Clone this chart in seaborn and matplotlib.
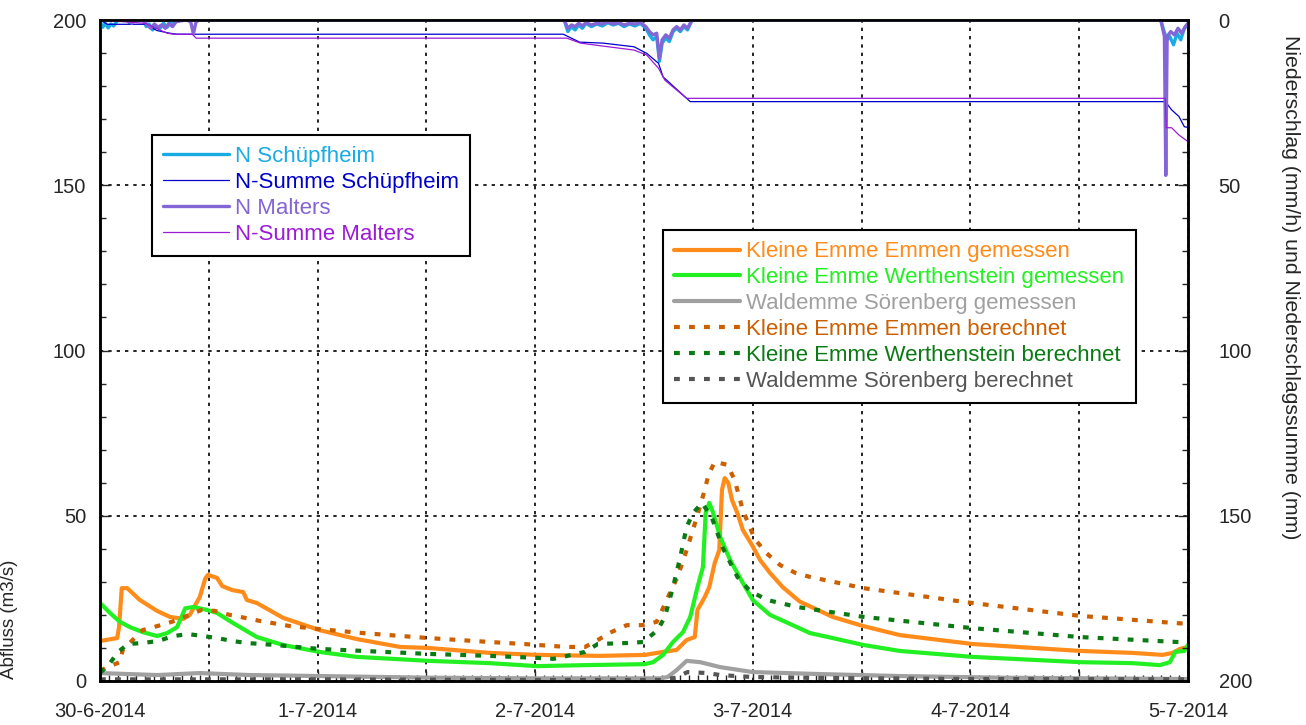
import numpy as np
import pandas as pd
import matplotlib
matplotlib.use('Agg')
import matplotlib.pyplot as plt
import matplotlib.dates as mdates
import seaborn as sns

# time axis: hours after 30-6-2014 00:00
start = pd.Timestamp('2014-06-30')
day_labels = ['30-6-2014', '1-7-2014', '2-7-2014', '3-7-2014', '4-7-2014', '5-7-2014']

# Abfluss (m3/s)
emmen_mess_h = [0, 1.9, 2.1, 2.4, 3.0, 4.4, 6.3, 7.7, 9.2, 9.9, 11.0, 11.6, 11.9, 12.9, 13.5, 14.6, 15.8, 16.2,
                17.3, 20.2, 24.2, 28.3, 33.1, 36.2, 43.0, 48.2, 55.1, 60.1, 62.1, 63.6, 64.7, 65.6, 65.9, 66.7,
                67.2, 67.8, 68.3, 68.6, 68.9, 69.3, 69.7, 70.3, 70.9, 71.9, 72.8, 73.9, 75.3, 77.2, 79.4, 80.8,
                84.2, 88.2, 96.2, 102.9, 108.1, 113.9, 117.2, 118.3, 119.1, 120]
emmen_mess = [12.1, 13.0, 16.3, 28.1, 28.1, 24.5, 21.2, 19.4, 18.8, 20.0, 25.4, 30.9, 32.1, 31.2, 28.7, 27.5, 26.9, 24.5,
              23.6, 19.1, 15.4, 12.7, 10.3, 10.0, 8.5, 7.9, 7.6, 7.9, 8.8, 9.4, 12.4, 13.3, 21.5, 25.4,
              28.4, 35.7, 39.6, 57.8, 61.4, 59.9, 54.8, 50.8, 45.7, 41.2, 36.6, 32.7, 28.4, 24.0, 21.2, 19.4,
              16.6, 13.9, 11.2, 10.0, 9.1, 8.5, 7.9, 8.5, 9.7, 10.3]

werth_mess_h = [0, 1.1, 2.2, 3.3, 4.7, 6.3, 7.4, 8.5, 9.4, 10.3, 11.8, 12.9, 14.7, 17.3, 20.2, 24.2, 28.3, 36.2,
                43.0, 48.2, 53.5, 60.1, 61.0, 62.1, 63.2, 64.3, 65.1, 65.9, 66.5, 66.8, 67.2, 67.6, 68.4, 69.5,
                70.9, 72.0, 73.9, 76.4, 78.3, 80.8, 84.2, 88.2, 96.2, 102.9, 108.1, 113.9, 116.9, 118.0, 118.6,
                119.6, 120]
werth_mess = [23.6, 20.6, 17.9, 16.3, 14.8, 13.6, 14.5, 16.3, 22.0, 22.4, 21.5, 20.6, 17.5, 13.3, 10.9, 8.8, 7.3, 6.1,
              5.4, 4.5, 4.8, 5.1, 5.7, 7.9, 11.8, 14.8, 19.4, 28.4, 34.5, 50.8, 53.9, 51.1, 43.6, 36.6,
              29.7, 24.5, 20.0, 16.9, 14.5, 13.0, 10.9, 9.1, 7.3, 6.4, 5.7, 5.4, 4.8, 5.7, 8.8,
              9.1, 10.9]

wald_mess_h = [0, 6.3, 11.0, 16.5, 24.3, 36.4, 48.2, 61.8, 62.6, 63.6, 64.7, 66.2, 68.4, 72.0, 79.4, 88.2, 99.3, 120]
wald_mess = [2.4, 1.8, 2.4, 1.8, 1.5, 1.0, 0.8, 0.8, 1.2, 3.3, 6.1, 5.7, 4.2, 2.7, 2.1, 1.5, 1.0, 0.6]

emmen_ber_h = [0, 0.8, 2.2, 2.5, 3.6, 4.7, 6.3, 7.9, 9.6, 11.2, 12.7, 14.3, 16.0, 17.6, 21.0, 24.2, 29.0, 36.2,
               43.0, 46.7, 51.5, 53.5, 54.9, 56.4, 58.1, 59.8, 61.4, 62.9, 63.7, 64.7, 65.8, 66.7, 67.1, 67.8,
               69.2, 70.0, 70.9, 72.2, 73.5, 75.0, 76.7, 78.3, 84.2, 96.2, 108.1, 118.8, 120]
emmen_ber = [3.0, 4.2, 5.7, 9.4, 12.4, 15.4, 16.6, 17.9, 19.7, 21.5, 21.2, 20.0, 19.1, 18.2, 16.6, 15.7, 14.5, 13.0,
             11.8, 11.2, 10.3, 10.3, 12.4, 14.8, 16.9, 16.9, 17.9, 26.9, 31.5, 39.6, 49.3, 57.8, 62.3, 66.3,
             65.4, 60.8, 51.7, 43.0, 38.7, 35.1, 32.7, 31.5, 28.1, 23.6, 19.7, 17.5, 17.3]

werth_ber_h = [0, 1.1, 2.0, 3.1, 4.7, 6.4, 8.1, 9.7, 11.4, 12.9, 14.6, 16.2, 19.3, 24.2, 29.0, 36.2, 43.0, 48.2,
               50.0, 53.5, 54.9, 58.2, 59.9, 61.5, 62.3, 63.2, 64.0, 64.7, 65.4, 66.4, 67.5, 68.7, 70.3, 71.7,
               73.6, 76.9, 78.3, 84.2, 96.2, 108.1, 118.8, 120]
werth_ber = [2.4, 5.4, 8.8, 11.2, 11.5, 12.1, 13.6, 14.2, 13.6, 13.0, 12.1, 11.5, 10.9, 9.7, 9.1, 8.2, 7.6, 7.0,
             6.7, 8.8, 11.2, 11.5, 11.8, 15.4, 19.4, 28.4, 37.5, 46.6, 50.8, 53.9, 49.3, 40.2, 31.5, 27.2,
             24.5, 22.4, 21.8, 19.4, 16.0, 13.3, 11.8, 11.7]

wald_ber_h = [0, 24, 48, 62, 63.5, 64.8, 67, 68.4, 72, 80, 96, 120]
wald_ber = [0.5, 0.5, 0.3, 0.3, 1.0, 2.7, 2.4, 1.8, 1.2, 0.9, 0.6, 0.5]

# Niederschlag (mm/h)
schupf_h = [0, 0.3, 0.6, 0.9, 1.2, 1.5, 1.9, 2.3, 3.0, 3.3, 3.7, 4.8, 5.1, 5.4, 5.8, 6.2, 6.6, 7.0, 7.4, 7.8, 8.3, 8.8,
            51.2, 51.6, 52.0, 52.4, 52.8, 53.2, 53.6, 54.2, 54.8, 55.4, 56.0, 56.6, 57.2, 57.8, 58.4, 59.0, 59.6,
            60.2, 60.6, 61.0, 61.4, 61.7, 62.0, 62.4, 62.8, 63.2, 63.6, 64.0, 64.4, 64.8, 65.3,
            117.0, 117.3, 117.7, 118.0, 118.4, 118.8, 119.2, 119.6, 120]
schupf = [0.5, 2.2, 1.0, 2.4, 1.2, 1.8, 0.3, 0, 0, 1.0, 0, 0, 2.0, 1.2, 3.0, 1.8, 2.6, 1.0, 2.2, 0.8, 0.3, 0,
          0, 3.5, 2.0, 3.0, 1.5, 2.5, 1.0, 2.0, 1.2, 1.8, 0.8, 1.5, 1.0, 2.0, 1.2, 1.8, 1.0,
          2.5, 4.5, 6.0, 5.0, 12.5, 7.0, 5.5, 6.5, 3.5, 2.5, 3.5, 2.0, 3.0, 0,
          0, 3.0, 6.0, 5.0, 7.5, 4.0, 6.0, 2.5, 1.5]

malters_h = [0, 3.0, 3.5, 3.9, 4.8, 5.2, 5.6, 6.0, 6.4, 6.8, 7.2, 7.6, 8.0, 8.4, 9.5, 10.0, 10.3, 10.6, 11.0,
             51.2, 51.6, 52.0, 52.4, 52.8, 53.2, 53.6, 54.2, 54.8, 55.4, 56.0, 56.6, 57.2, 57.8, 58.4, 59.0, 59.6,
             60.2, 60.6, 61.0, 61.4, 61.7, 62.0, 62.4, 62.8, 63.2, 63.6, 64.0, 64.4, 64.8, 65.3,
             117.0, 117.4, 117.55, 117.7, 118.1, 118.5, 118.9, 119.3, 119.7, 120]
malters = [0, 0, 1.0, 0, 0, 1.5, 2.5, 1.2, 2.2, 1.5, 2.5, 1.0, 2.0, 0.5, 0, 0.5, 4.2, 0.5, 0,
           0, 2.5, 1.5, 2.0, 1.0, 1.8, 0.8, 1.5, 1.0, 1.2, 0.6, 1.2, 0.8, 1.5, 1.0, 1.2, 0.8,
           2.0, 3.5, 4.5, 4.0, 11.5, 6.0, 4.5, 5.5, 3.0, 2.0, 3.0, 1.5, 2.5, 0,
           0, 5.0, 47.0, 5.0, 3.5, 4.5, 2.5, 4.0, 2.0, 1.0]

# Niederschlagssumme (mm)
sum_schupf_h = [0, 0.8, 5.0, 6.3, 7.7, 8.5, 51.1, 52.9, 55.5, 58.9, 60.3, 61.6, 62.1, 63.3, 65.1,
                117.5, 118.2, 119.0, 119.6, 120]
sum_schupf = [0, 1.3, 1.3, 3.2, 4.0, 4.3, 4.3, 6.7, 7.0, 8.1, 10.1, 13.1, 17.2, 20.2, 24.7,
              24.7, 27.2, 29.2, 32.3, 32.5]

sum_malters_h = [0, 5.0, 7.4, 8.1, 10.2, 10.6, 51.5, 53.0, 55.5, 58.9, 60.3, 61.6, 62.3, 64.7,
                 117.5, 117.6, 118.2, 119.0, 120]
sum_malters = [0, 1.0, 4.0, 4.3, 4.3, 5.5, 5.5, 7.0, 7.9, 9.1, 10.6, 14.6, 18.2, 23.7,
               23.7, 32.6, 32.6, 34.8, 36.8]


def to_time(hours):
    return start + pd.to_timedelta(np.array(hours, dtype=float), unit='h')


sns.set_style('ticks')
plt.rcParams['font.family'] = ['Liberation Sans', 'DejaVu Sans']

fig = plt.figure(figsize=(13.06, 7.25), dpi=100)
ax = fig.add_axes([100 / 1306, 44 / 725, 1088 / 1306, 661 / 725])
ax2 = ax.twinx()

dots = (0, (1.4, 2.2))

# discharge lines
flow = [
    (emmen_mess_h, emmen_mess, '#FF8C1A', '-', 'Kleine Emme Emmen gemessen'),
    (werth_mess_h, werth_mess, '#22F022', '-', 'Kleine Emme Werthenstein gemessen'),
    (wald_mess_h, wald_mess, '#A0A0A0', '-', 'Waldemme Sörenberg gemessen'),
    (emmen_ber_h, emmen_ber, '#CC5F00', dots, 'Kleine Emme Emmen berechnet'),
    (werth_ber_h, werth_ber, '#0B7A14', dots, 'Kleine Emme Werthenstein berechnet'),
    (wald_ber_h, wald_ber, '#555555', dots, 'Waldemme Sörenberg berechnet'),
]
for h, v, c, ls, lab in flow:
    sns.lineplot(x=to_time(h), y=v, ax=ax, color=c, linestyle=ls, linewidth=3,
                 label=lab, estimator=None, legend=False)

# precipitation lines on inverted right axis
rain = [
    (schupf_h, schupf, '#19ABE3', 2.4, 'N Schüpfheim'),
    (sum_schupf_h, sum_schupf, '#0000CC', 0.9, 'N-Summe Schüpfheim'),
    (malters_h, malters, '#8465D6', 2.4, 'N Malters'),
    (sum_malters_h, sum_malters, '#9B1BD6', 0.9, 'N-Summe Malters'),
]
for h, v, c, lw, lab in rain:
    sns.lineplot(x=to_time(h), y=v, ax=ax2, color=c, linewidth=lw,
                 label=lab, estimator=None, legend=False)

for a in (ax, ax2):
    if a.get_legend() is not None:
        a.get_legend().remove()

ax.set_xlim(start, start + pd.Timedelta(days=5))
ax.set_ylim(0, 200)
ax2.set_ylim(200, 0)

ticks = pd.date_range(start, periods=11, freq='12h')
labels = []
for i in range(11):
    labels.append(day_labels[i // 2] if i % 2 == 0 else '')
ax.set_xticks(ticks)
ax.set_xticklabels(labels)
ax.xaxis.set_minor_locator(mdates.HourLocator())

ax.set_yticks([0, 50, 100, 150, 200])
ax.set_yticks(np.arange(0, 201, 10), minor=True)
ax2.set_yticks([0, 50, 100, 150, 200])
ax2.set_yticks(np.arange(0, 201, 10), minor=True)

ax.grid(True, which='major', color='black', linestyle=(0, (2, 3)), linewidth=1.2)
ax.tick_params(axis='both', which='major', direction='in', length=7, width=1, labelsize=14.5)
ax.tick_params(axis='x', which='major', pad=15)
ax.tick_params(axis='y', which='major', pad=10)
ax.tick_params(axis='both', which='minor', direction='in', length=4, width=1)
ax2.tick_params(axis='y', which='major', direction='in', length=7, width=1, labelsize=14.5, pad=22)
ax2.tick_params(axis='y', which='minor', direction='in', length=4, width=1)

for a in (ax, ax2):
    for s in a.spines.values():
        s.set_linewidth(1.8)
        s.set_color('black')

ax.set_xlabel('')
ax.set_ylabel('Abfluss (m3/s)', fontsize=13.5)
ax.yaxis.set_label_coords(-0.075, 0.094)
ax2.set_ylabel('Niederschlag (mm/h) und Niederschlagssumme (mm)', fontsize=15.3, rotation=-90, va='center')
ax2.yaxis.set_label_coords(1.094, 0.595)

rain_handles = ax2.get_lines()[:4]
flow_handles = ax.get_lines()[:6]

leg_kw = dict(loc='upper left', borderaxespad=0, fontsize=16, handlelength=2.95,
              handletextpad=0.3, labelspacing=0.22, borderpad=0.5,
              fancybox=False, framealpha=1, edgecolor='black')

leg1 = ax2.legend(handles=rain_handles, labels=[r[4] for r in rain],
                  bbox_to_anchor=(0.0478, 0.826), **leg_kw)
leg1.get_frame().set_linewidth(1.5)
for t, r in zip(leg1.get_texts(), rain):
    t.set_color(r[2])
ax2.add_artist(leg1)

leg2 = ax2.legend(handles=flow_handles, labels=[f[4] for f in flow],
                  bbox_to_anchor=(0.5175, 0.682), **leg_kw)
leg2.get_frame().set_linewidth(1.5)
for t, f in zip(leg2.get_texts(), flow):
    t.set_color(f[2])

fig.savefig('out.png', dpi=100)
